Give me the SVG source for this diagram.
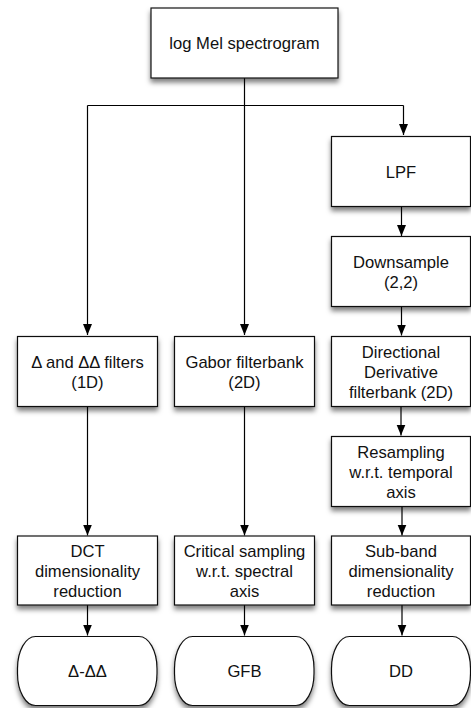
<svg xmlns="http://www.w3.org/2000/svg" width="471" height="708" viewBox="0 0 471 708">
<style>
.box{fill:#fff;stroke:#111;stroke-width:1.2;filter:url(#sh)}
.t{font-family:"Liberation Sans",Arial,sans-serif;font-size:16.6px;fill:#111;text-anchor:middle}
.c{fill:none;stroke:#000;stroke-width:1.2}
</style>
<defs>
<filter id="sh" x="-10%" y="-10%" width="130%" height="140%">
<feDropShadow dx="0" dy="4" stdDeviation="2.5" flood-color="#000" flood-opacity="0.5"/>
</filter>
<marker id="ah" markerWidth="12" markerHeight="10" refX="11" refY="4.5" orient="auto" markerUnits="userSpaceOnUse">
<path d="M0,0 L11,4.5 L0,9 Z" fill="#000"/>
</marker>
</defs>
<rect width="471" height="708" fill="#fff"/>
<g id="connectors">
<path class="c" d="M244.5,78 V105.5"/>
<path class="c" d="M87.5,105.5 H403.5"/>
<path class="c" d="M87.5,105.5 V335" marker-end="url(#ah)"/>
<path class="c" d="M244.5,105 V335" marker-end="url(#ah)"/>
<path class="c" d="M403.5,105.5 V135" marker-end="url(#ah)"/>
<path class="c" d="M401.5,206 V236" marker-end="url(#ah)"/>
<path class="c" d="M401.5,306 V335.5" marker-end="url(#ah)"/>
<path class="c" d="M401,406 V435.5" marker-end="url(#ah)"/>
<path class="c" d="M402,506 V535.5" marker-end="url(#ah)"/>
<path class="c" d="M87.5,406 V535.5" marker-end="url(#ah)"/>
<path class="c" d="M244.5,406 V535.5" marker-end="url(#ah)"/>
<path class="c" d="M87.5,605 V635.5" marker-end="url(#ah)"/>
<path class="c" d="M244.5,605 V635.5" marker-end="url(#ah)"/>
<path class="c" d="M402,605 V635.5" marker-end="url(#ah)"/>
</g>
<g id="n-logmel"><rect class="box" x="151" y="8" width="187" height="70"/><text class="t" x="244.5" y="49">log Mel spectrogram</text></g>
<g id="n-lpf"><rect class="box" x="331.5" y="136.5" width="139" height="70"/><text class="t" x="401" y="178">LPF</text></g>
<g id="n-down"><rect class="box" x="331.5" y="236.5" width="139" height="70"/><text class="t" x="401" y="268">Downsample</text><text class="t" x="401" y="288">(2,2)</text></g>
<g id="n-delta"><rect class="box" x="17.5" y="336.5" width="140" height="70"/><text class="t" x="87.5" y="367.5">Δ and ΔΔ filters</text><text class="t" x="87.5" y="387.5">(1D)</text></g>
<g id="n-gabor"><rect class="box" x="174.5" y="336.5" width="140" height="70"/><text class="t" x="244.5" y="367.5">Gabor filterbank</text><text class="t" x="244.5" y="387.5">(2D)</text></g>
<g id="n-dd"><rect class="box" x="331.5" y="336.5" width="139" height="70"/><text class="t" x="401" y="357.5">Directional</text><text class="t" x="401" y="377.5">Derivative</text><text class="t" x="401" y="397.5">filterbank (2D)</text></g>
<g id="n-resamp"><rect class="box" x="331.5" y="436.5" width="139" height="70"/><text class="t" x="401" y="457.5">Resampling</text><text class="t" x="401" y="477.5">w.r.t. temporal</text><text class="t" x="401" y="497.5">axis</text></g>
<g id="n-dct"><rect class="box" x="17.5" y="536" width="140" height="69"/><text class="t" x="87.5" y="556.5">DCT</text><text class="t" x="87.5" y="576.5">dimensionality</text><text class="t" x="87.5" y="596.5">reduction</text></g>
<g id="n-crit"><rect class="box" x="174.5" y="536" width="140" height="69"/><text class="t" x="244.5" y="556.5">Critical sampling</text><text class="t" x="244.5" y="576.5">w.r.t. spectral</text><text class="t" x="244.5" y="596.5">axis</text></g>
<g id="n-sub"><rect class="box" x="331.5" y="536" width="139" height="69"/><text class="t" x="401" y="556.5">Sub-band</text><text class="t" x="401" y="576.5">dimensionality</text><text class="t" x="401" y="596.5">reduction</text></g>
<g id="o-delta"><rect class="box" x="17.5" y="636.5" width="139.5" height="69" rx="18" ry="32"/><text class="t" x="87.5" y="677">Δ-ΔΔ</text></g>
<g id="o-gfb"><rect class="box" x="174.5" y="636.5" width="139.5" height="69" rx="18" ry="32"/><text class="t" x="244.5" y="677">GFB</text></g>
<g id="o-dd"><rect class="box" x="331.5" y="636.5" width="139" height="69" rx="18" ry="32"/><text class="t" x="401" y="677">DD</text></g>
</svg>
